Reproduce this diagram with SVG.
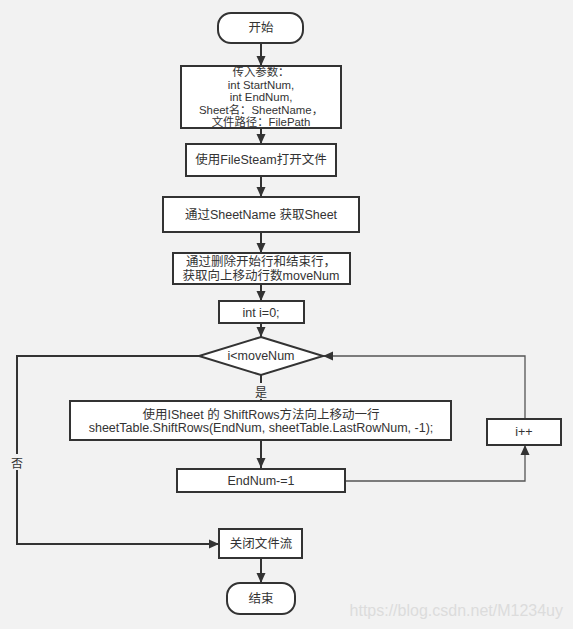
<svg xmlns="http://www.w3.org/2000/svg" width="573" height="629" viewBox="0 0 573 629">
<defs>
<marker id="ah" viewBox="0 0 10 10" refX="10" refY="5" markerWidth="10" markerHeight="10" markerUnits="userSpaceOnUse" orient="auto">
<path d="M0,0.5 L10,5 L0,9.5 Z" fill="#333"/>
</marker>
<style>
.n{fill:#fff;stroke:#333;stroke-width:2}
.t{font-family:"Liberation Sans","Noto Sans CJK SC",sans-serif;font-size:12.5px;fill:#333;text-anchor:middle;dominant-baseline:central}
.s{font-size:11.4px}
.c{fill:none;stroke:#333;stroke-width:2;marker-end:url(#ah)}
.c2{fill:none;stroke:#555;stroke-width:1.3;marker-end:url(#ah)}
.lb{font-family:"Noto Sans CJK SC",sans-serif;font-size:12px;fill:#333;text-anchor:middle;dominant-baseline:central}
</style>
</defs>
<rect width="573" height="629" fill="#f2f2f2"/>
<g id="connectors">
<path class="c" d="M261,43 V66"/>
<path class="c" d="M261,128 V144"/>
<path class="c" d="M261,176 V197"/>
<path class="c" d="M261,232 V253"/>
<path class="c" d="M261,284 V301"/>
<path class="c" d="M261,323 V337"/>
<path class="c" d="M261,375 V401"/>
<path class="c" d="M261,440 V468"/>
<path class="c2" d="M345,481 H525 V445"/>
<path class="c2" d="M525,419 V356 H323"/>
<path class="c" d="M199,356 H17 V544 H219"/>
<path class="c" d="M261,558 V583"/>
<rect x="254" y="383" width="14" height="16" fill="#f2f2f2"/>
<text class="lb" x="261" y="391">是</text>
<rect x="10" y="454" width="14" height="16" fill="#f2f2f2"/>
<text class="lb" x="17" y="462">否</text>
</g>
<g id="start">
<rect class="n" x="218" y="13" width="85" height="30" rx="13"/>
<text class="t" x="261" y="28">开始</text>
</g>
<g id="params">
<rect class="n" x="181" y="66" width="160" height="62"/>
<text class="t s" x="261" y="72">传入参数：</text>
<text class="t s" x="261" y="84.5">int StartNum,</text>
<text class="t s" x="261" y="97">int EndNum,</text>
<text class="t s" x="261" y="109.5">Sheet名：SheetName，</text>
<text class="t s" x="261" y="122">文件路径：FilePath</text>
</g>
<g id="open">
<rect class="n" x="186" y="144" width="150" height="32"/>
<text class="t" x="261" y="160">使用FileSteam打开文件</text>
</g>
<g id="getsheet">
<rect class="n" x="163" y="197" width="196" height="35"/>
<text class="t" x="261" y="215">通过SheetName 获取Sheet</text>
</g>
<g id="movenum">
<rect class="n" x="173" y="253" width="177" height="31"/>
<text class="t" x="261" y="262">通过删除开始行和结束行，</text>
<text class="t" x="261" y="276">获取向上移动行数moveNum</text>
</g>
<g id="init">
<rect class="n" x="219" y="301" width="85" height="22"/>
<text class="t" x="261" y="313">int i=0;</text>
</g>
<g id="cond">
<path class="n" d="M261,337 L323,356 L261,375 L199,356 Z"/>
<text class="t" x="261" y="356">i&lt;moveNum</text>
</g>
<g id="shift">
<rect class="n" x="70" y="401" width="381" height="39"/>
<text class="t" x="261" y="415">使用ISheet 的 ShiftRows方法向上移动一行</text>
<text class="t" x="261" y="428">sheetTable.ShiftRows(EndNum, sheetTable.LastRowNum, -1);</text>
</g>
<g id="endnum">
<rect class="n" x="177" y="469" width="168" height="23"/>
<text class="t" x="261" y="481">EndNum-=1</text>
</g>
<g id="inc">
<rect class="n" x="487" y="419" width="74" height="26"/>
<text class="t" x="524" y="432">i++</text>
</g>
<g id="close">
<rect class="n" x="219" y="529" width="83" height="29"/>
<text class="t" x="261" y="544">关闭文件流</text>
</g>
<g id="end">
<rect class="n" x="227" y="583" width="68" height="31" rx="13"/>
<text class="t" x="261" y="599">结束</text>
</g>
<text x="563" y="616" font-family="Liberation Sans, sans-serif" font-size="16" fill="#dcdcdc" text-anchor="end">https://blog.csdn.net/M1234uy</text>
</svg>
